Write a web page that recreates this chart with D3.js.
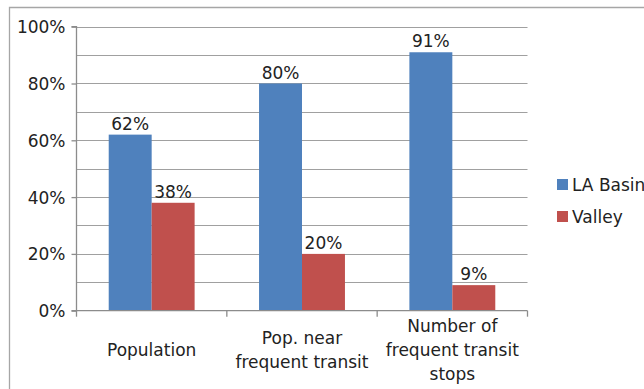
<!DOCTYPE html>
<html><head><meta charset="utf-8">
<script src="https://cdn.jsdelivr.net/npm/d3@7"></script>
<style>body{margin:0;background:#fff}svg{display:block}text{font-family:"DejaVu Sans",sans-serif;fill:#222}</style>
</head><body><svg id="c" width="644" height="389"></svg>
<script>
const categories = [["Population"], ["Pop. near", "frequent transit"], ["Number of", "frequent transit", "stops"]];
const seriesNames = ["LA Basin", "Valley"];
const laBasin = [62, 80, 91];
const valley = [38, 20, 9];
const colors = ["#4F81BD", "#C0504D"];
const yTicks = [0, 20, 40, 60, 80, 100];
const yMinor = [10, 30, 50, 70, 90];

const svg = d3.select("#c");
const L = 76.5, R = 527.5, T = 26.7, B = 310.7;
const fs = 17;

// outer frame
svg.append("path").attr("d", `M9.5,389 V7.5 H644`).attr("fill","none").attr("stroke","#A6A6A6").attr("stroke-width",1.3);

const x = d3.scaleBand().domain(d3.range(categories.length)).range([L, R]).paddingInner(0).paddingOuter(0);
const xs = d3.scaleBand().domain([0,1]).range([0, x.bandwidth()]).paddingOuter(0.75).paddingInner(0);
const y = d3.scaleLinear().domain([0, 100]).range([B, T]);

// gridlines
svg.append("g").selectAll("line").data(yTicks.concat(yMinor).filter(d=>d>0)).join("line")
  .attr("x1", L).attr("x2", R).attr("y1", d=>Math.round(y(d))+0.5).attr("y2", d=>Math.round(y(d))+0.5)
  .attr("stroke","#A0A0A0").attr("stroke-width",1.2);

// bars
const data = [laBasin, valley];
data.forEach((arr, s) => {
  const g = svg.append("g");
  g.selectAll("rect").data(arr).join("rect")
    .attr("x", (d,i)=>x(i)+xs(s)).attr("width", xs.bandwidth())
    .attr("y", d=>y(d)).attr("height", d=>B-y(d)).attr("fill", colors[s]);
  g.selectAll("text").data(arr).join("text")
    .attr("x", (d,i)=>x(i)+xs(s)+xs.bandwidth()/2).attr("y", d=>y(d)-5)
    .attr("text-anchor","middle").attr("font-size", fs).text(d=>d+"%");
});

// y axis
const yAxis = d3.axisLeft(y).tickValues(yTicks).tickFormat(d=>d+"%").tickSize(5).tickPadding(6);
const ga = svg.append("g").attr("transform", `translate(${L},0)`).call(yAxis);
ga.select(".domain").attr("stroke","#8C8C8C").attr("stroke-width",1.3).attr("d", `M-5,${T}H0V${B}H-5`);
ga.selectAll(".tick line").attr("stroke","#8C8C8C").attr("stroke-width",1.3);
ga.selectAll(".tick text").attr("font-size", fs).attr("font-family",'"DejaVu Sans",sans-serif').attr("fill","#222").attr("dy","0.35em");

// x axis
const xg = svg.append("g");
xg.append("line").attr("x1", L).attr("x2", R).attr("y1", B).attr("y2", B).attr("stroke","#8C8C8C").attr("stroke-width",1.3);
xg.selectAll("line.t").data(d3.range(categories.length+1)).join("line").attr("class","t")
  .attr("x1", i=>L + i*x.bandwidth()).attr("x2", i=>L + i*x.bandwidth()).attr("y1", B).attr("y2", B+6)
  .attr("stroke","#8C8C8C").attr("stroke-width",1.3);
const lh = 24, mid = 350;
categories.forEach((lines, i) => {
  const t = xg.append("text").attr("text-anchor","middle").attr("font-size", fs);
  lines.forEach((ln, k) => {
    t.append("tspan").attr("x", x(i)+x.bandwidth()/2)
      .attr("y", mid + 6 + (k - (lines.length-1)/2)*lh).text(ln);
  });
});

// legend
const lg = svg.append("g");
seriesNames.forEach((n, i) => {
  lg.append("rect").attr("x", 557).attr("y", 179 + i*32).attr("width", 11).attr("height", 11).attr("fill", colors[i]);
  lg.append("text").attr("x", 572).attr("y", 191 + i*32).attr("font-size", fs).text(n);
});
</script></body></html>
